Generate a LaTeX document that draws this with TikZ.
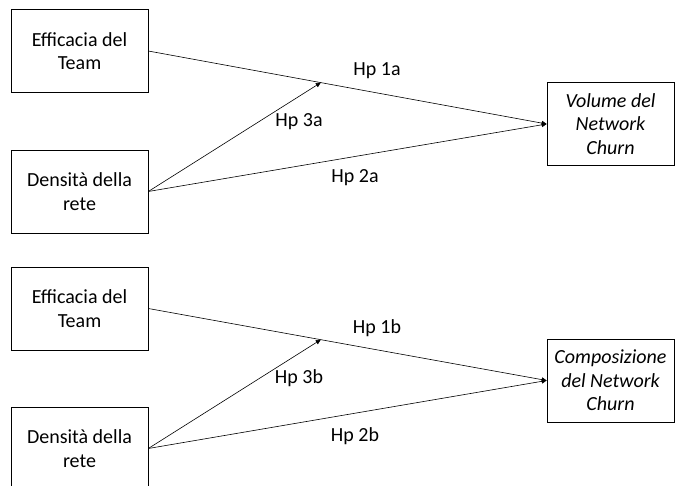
\documentclass[tikz,border=0pt]{standalone}
\usepackage{fontspec}
\setmainfont{Carlito}
\usetikzlibrary{arrows.meta,calc}
\begin{document}
\begin{tikzpicture}[x=1pt, y=-1pt,
    boxStyle/.style={rectangle, draw, line width=0.6pt, minimum width=137pt, minimum height=83pt, align=center, font=\fontsize{20}{23.5}\selectfont, inner sep=0pt},
    outStyle/.style={boxStyle, minimum width=127pt, font=\fontsize{20}{23.5}\selectfont\itshape},
    hpStyle/.style={font=\fontsize{20}{23}\selectfont, inner sep=0pt},
    arrowStyle/.style={-{Triangle[length=5pt, width=4.5pt]}, line width=0.6pt}]
    \useasboundingbox (0,0) rectangle (675,486);

    % modello a: volume
    \node[boxStyle] (effA) at (79.5, 51) {Efficacia del\\Team};
    \node[boxStyle] (denA) at (79.5, 191.5) {Densità della\\rete};
    \node[outStyle] (volA) at (610.5, 124) {Volume del\\Network\\Churn};
    \coordinate (modA) at ($(effA.east)!0.433!(volA.west)$);

    \draw[arrowStyle] (effA.east) -- (volA.west);
    \draw[arrowStyle] (denA.east) -- (volA.west);
    \draw[arrowStyle] (denA.east) -- (modA);

    \node[hpStyle] (hp1a) at (377, 71) {Hp 1a};
    \node[hpStyle] (hp3a) at (299, 122) {Hp 3a};
    \node[hpStyle] (hp2a) at (355, 178) {Hp 2a};

    % modello b: composizione
    \node[boxStyle] (effB) at (79.5, 308.5) {Efficacia del\\Team};
    \node[boxStyle] (denB) at (79.5, 448.5) {Densità della\\rete};
    \node[outStyle] (compB) at (610.5, 380.5) {Composizione\\del Network\\Churn};
    \coordinate (modB) at ($(effB.east)!0.433!(compB.west)$);

    \draw[arrowStyle] (effB.east) -- (compB.west);
    \draw[arrowStyle] (denB.east) -- (compB.west);
    \draw[arrowStyle] (denB.east) -- (modB);

    \node[hpStyle] (hp1b) at (377, 328) {Hp 1b};
    \node[hpStyle] (hp3b) at (299, 378) {Hp 3b};
    \node[hpStyle] (hp2b) at (355, 436) {Hp 2b};
\end{tikzpicture}
\end{document}
